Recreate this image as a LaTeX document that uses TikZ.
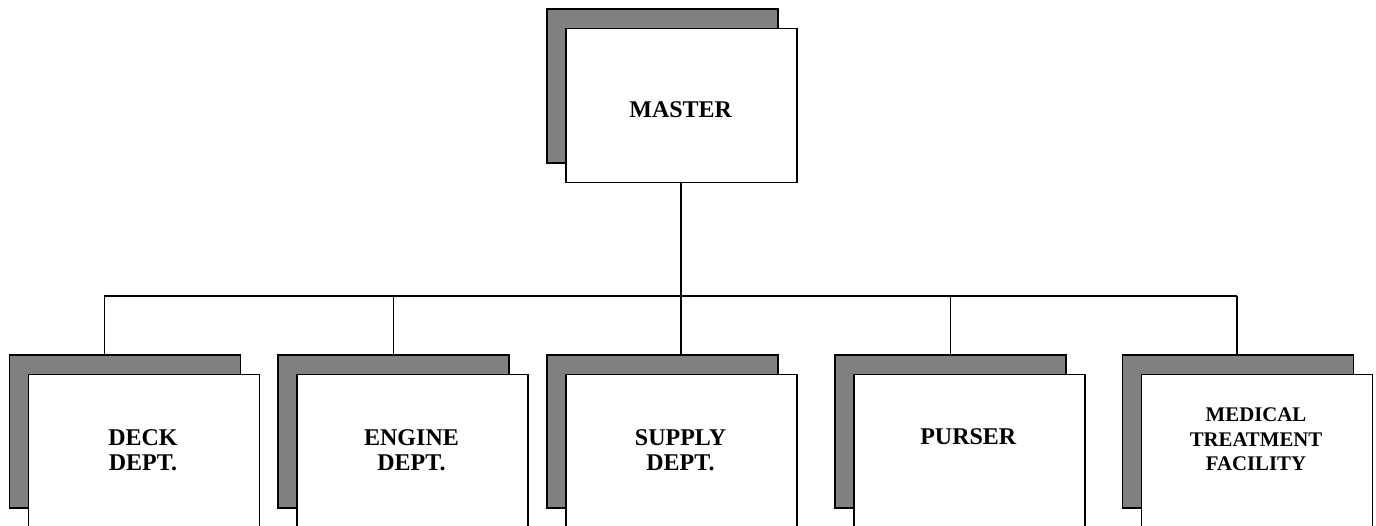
\documentclass[tikz,border=0pt]{standalone}
\usepackage{fontspec}
\setmainfont{Liberation Serif}
\begin{document}
\begin{tikzpicture}[x=1pt,y=-1pt,
  shadowbox/.style={rectangle,draw=black,line width=1.6pt,fill=black!50,
    minimum width=231pt,minimum height=154pt,inner sep=0pt,anchor=north west},
  frontbox/.style={rectangle,draw=black,line width=1.6pt,fill=white,
    minimum width=231pt,minimum height=154pt,inner sep=0pt,anchor=north west},
  lbl/.style={align=center,inner sep=0pt,font=\fontsize{24}{25}\selectfont\bfseries},
  conn/.style={draw=black,line width=1.2pt}]
\useasboundingbox (0,0) rectangle (1376,525);
\clip (0,0) rectangle (1376,525);
% master
\node[shadowbox] (masterS) at (546,8) {};
\node[frontbox] (master) at (565,27.5) {};
\node[lbl] (masterT) at (680.7,110) {MASTER};
% departments
\node[shadowbox,minimum height=153pt] (deckS) at (8.5,354) {};
\node[frontbox] (deck) at (27.5,373.5) {};
\node[lbl] (deckT) at (143,450.7) {DECK\\DEPT.};

\node[shadowbox,minimum height=153pt] (engineS) at (277.3,354) {};
\node[frontbox] (engine) at (296.3,373.5) {};
\node[lbl] (engineT) at (411.5,450.7) {ENGINE\\DEPT.};

\node[shadowbox,minimum height=153pt] (supplyS) at (546,354) {};
\node[frontbox] (supply) at (565,373.5) {};
\node[lbl] (supplyT) at (680.5,450.7) {SUPPLY\\DEPT.};

\node[shadowbox,minimum height=153pt] (purserS) at (834,354) {};
\node[frontbox] (purser) at (853,373.5) {};
\node[lbl] (purserT) at (968.3,436.7) {PURSER};

\node[shadowbox,minimum height=153pt] (medS) at (1121.7,354) {};
\node[frontbox] (med) at (1140.7,373.5) {};
\node[lbl,font=\fontsize{20.8}{24.5}\selectfont\bfseries] (medT) at (1256,439.5) {MEDICAL\\TREATMENT\\FACILITY};
% connectors
\coordinate (busL) at (104.3,296);
\coordinate (busR) at (1237,296);
\draw[conn] (busL) -- (busR);
\draw[conn,line width=2pt] (master.south) -- (supplyS.north -| master.south);
\draw[conn] (busL) -- (deckS.north -| busL);
\draw[conn] (engineS.north |- busL) -- (engineS.north);
\draw[conn] (purserS.north |- busL) -- (purserS.north);
\draw[conn] (busR) -- (medS.north -| busR);
\end{tikzpicture}
\end{document}
